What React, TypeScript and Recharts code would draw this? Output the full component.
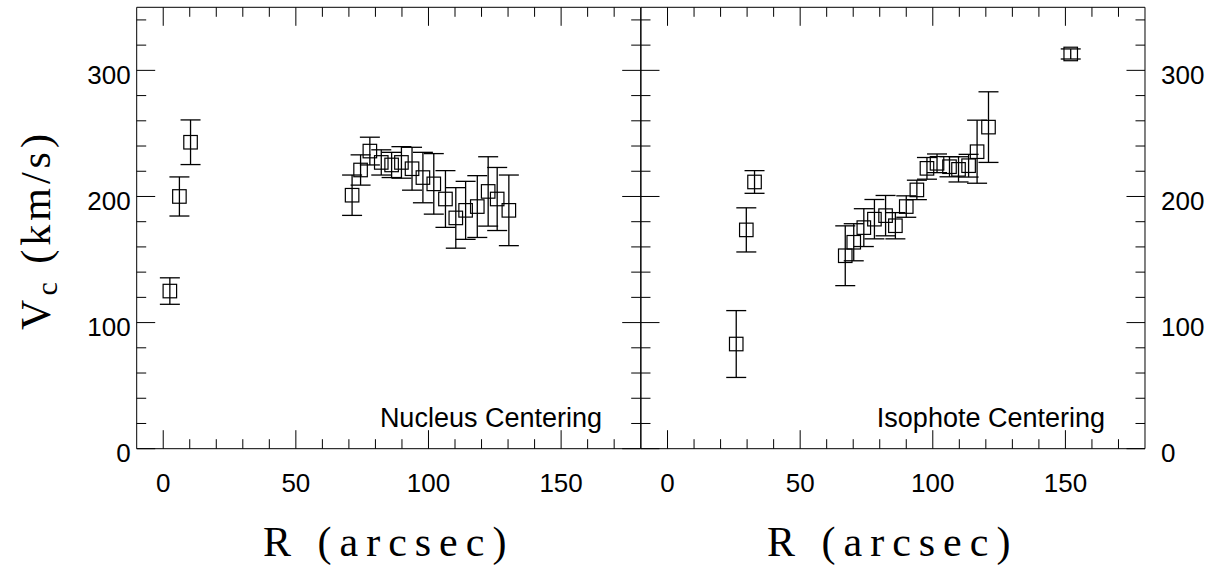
import React from 'react';
import { ScatterChart, Scatter, XAxis, YAxis, ErrorBar } from 'recharts';

// Nucleus Centering panel
const nucleusR = [2.5, 6.1, 10.3, 71.2, 74.4, 77.9, 82.2, 86.1, 89.8, 93.8, 97.9, 102.0, 106.4, 110.3, 114.0, 118.4, 122.5, 125.9, 130.3];
const nucleusV = [125, 200, 243, 201, 221, 236, 227, 225, 227, 222, 215, 210, 198, 183, 189, 192, 204, 198, 189];
const nucleusErr = [10.5, 15.5, 17.7, 16, 12, 11, 10, 10, 12.5, 17, 20, 24, 22.5, 24, 23, 24.5, 27.5, 25, 28];

// Isophote Centering panel
const isoR = [25.9, 29.7, 32.8, 67.0, 70.2, 74.0, 78.0, 82.2, 85.9, 90.0, 94.0, 97.8, 101.6, 106.3, 109.7, 113.5, 116.7, 121.0, 152.0];
const isoV = [83, 173.5, 211.5, 153, 163.7, 175.3, 182, 184.8, 176.8, 192, 205.2, 222.3, 226.3, 223.6, 221.5, 224.4, 235.5, 255, 313];
const isoErr = [26.5, 17.5, 9, 23.7, 14.7, 15, 15.6, 16, 10.4, 8.5, 7.7, 8.6, 7.4, 8, 10, 9, 25, 28, 4];

const xTicks = [0, 10, 20, 30, 40, 50, 60, 70, 80, 90, 100, 110, 120, 130, 140, 150, 160, 170];
const yTicks = [0, 20, 40, 60, 80, 100, 120, 140, 160, 180, 200, 220, 240, 260, 280, 300, 320, 340];
const xDomain: [number, number] = [-10, 180];
const yDomain: [number, number] = [0, 350];

const panelTitles = ['Nucleus Centering', 'Isophote Centering'];
const xTitle = 'R (arcsec)';

const nucleusData = nucleusR.map((r, i) => ({ r, v: nucleusV[i], e: nucleusErr[i] }));
const isoData = isoR.map((r, i) => ({ r, v: isoV[i], e: isoErr[i] }));

const SANS = '"Liberation Sans", Arial, Helvetica, sans-serif';
const SERIF = '"Liberation Serif", "Times New Roman", serif';
const MAJOR = 18.5;
const MINOR = 9.5;
const FS = 26;

function makeXTick(dir: number, showLabel: boolean) {
  return (props: any) => {
    const { x, y, payload } = props;
    const v = payload.value;
    const major = v % 50 === 0;
    const len = major ? MAJOR : MINOR;
    return (
      <g>
        <line x1={x} x2={x} y1={y} y2={y - dir * len} stroke="#000" strokeWidth={1} />
        {showLabel && major ? (
          <text x={x} y={y + 43.3} textAnchor="middle" fontSize={FS} fontFamily={SANS} fill="#000">{v}</text>
        ) : null}
      </g>
    );
  };
}

function makeYTick(dir: number, label: 'none' | 'left' | 'right') {
  return (props: any) => {
    const { x, y, payload } = props;
    const v = payload.value;
    const major = v % 100 === 0;
    const len = major ? MAJOR : MINOR;
    return (
      <g>
        <line x1={x} x2={x + dir * len} y1={y} y2={y} stroke="#000" strokeWidth={1} />
        {label === 'left' && major ? (
          <text x={x - 6} y={y + 13.3} textAnchor="end" fontSize={FS} fontFamily={SANS} fill="#000">{v}</text>
        ) : null}
        {label === 'right' && major ? (
          <text x={x + 16} y={y + 13.3} textAnchor="start" fontSize={FS} fontFamily={SANS} fill="#000">{v}</text>
        ) : null}
      </g>
    );
  };
}

const SquareShape = (props: any) => {
  const { cx, cy } = props;
  const s = 13.5;
  return <rect x={cx - s / 2} y={cy - s / 2} width={s} height={s} fill="none" stroke="#000" strokeWidth={1.2} />;
};

const axisCommon = {
  type: 'number' as const,
  allowDataOverflow: true,
  tickLine: false,
  tickSize: 0,
  tickMargin: 0,
  interval: 0 as const,
  axisLine: { stroke: '#000', strokeWidth: 1 },
};

function Panel({ data, leftLabels, rightLabels, width, margin, leftW, rightW }: any) {
  return (
    <ScatterChart width={width} height={568} margin={margin}>
      <XAxis {...axisCommon} xAxisId="b" orientation="bottom" dataKey="r" domain={xDomain} ticks={xTicks} height={119.3} tick={makeXTick(1, true)} />
      <XAxis {...axisCommon} xAxisId="t" orientation="top" dataKey="r" domain={xDomain} ticks={xTicks} height={1} tick={makeXTick(-1, false)} />
      <YAxis {...axisCommon} yAxisId="l" orientation="left" dataKey="v" domain={yDomain} ticks={yTicks} width={leftW} tick={makeYTick(1, leftLabels ? 'left' : 'none')} />
      <YAxis {...axisCommon} yAxisId="r" orientation="right" dataKey="v" domain={yDomain} ticks={yTicks} width={rightW} tick={makeYTick(-1, rightLabels ? 'right' : 'none')} />
      <Scatter data={data} xAxisId="b" yAxisId="l" dataKey="v" shape={SquareShape} isAnimationActive={false}>
        <ErrorBar dataKey="e" direction="y" width={10} stroke="#000" strokeWidth={1.3} />
      </Scatter>
      <Scatter data={data} xAxisId="t" yAxisId="r" dataKey="v" shape={() => null} isAnimationActive={false} />
    </ScatterChart>
  );
}

export default function App() {
  return (
    <div style={{ position: 'absolute', left: 0, top: 0, width: 1211, height: 568, background: '#fff', overflow: 'hidden' }}>
      <div style={{ position: 'absolute', left: 0, top: 0 }}>
        <Panel data={nucleusData} leftLabels rightLabels={false} width={645.7} margin={{ top: 6.3, right: 4, bottom: 0, left: 0 }} leftW={136.7} rightW={1} />
      </div>
      <div style={{ position: 'absolute', left: 635.7, top: 0 }}>
        <Panel data={isoData} leftLabels={false} rightLabels width={575.3} margin={{ top: 6.3, right: 0, bottom: 0, left: 4 }} leftW={1} rightW={66.3} />
      </div>
      <svg width={1211} height={568} style={{ position: 'absolute', left: 0, top: 0, pointerEvents: 'none' }}>
        <text x={602} y={427} textAnchor="end" fontSize={27} fontFamily={SANS} fill="#000">{panelTitles[0]}</text>
        <text x={1105} y={427} textAnchor="end" fontSize={27} fontFamily={SANS} fill="#000">{panelTitles[1]}</text>
        <text x={388.7} y={556} textAnchor="middle" fontSize={42} fontFamily={SERIF} letterSpacing={8} fill="#000">{xTitle}</text>
        <text x={892.7} y={556} textAnchor="middle" fontSize={42} fontFamily={SERIF} letterSpacing={8} fill="#000">{xTitle}</text>
        <text transform="translate(50,230) rotate(-90)" textAnchor="middle" fontSize={42} fontFamily={SERIF} letterSpacing={4} fill="#000">
          V<tspan fontSize={30} dy={7}>c</tspan><tspan dy={-7}> (km/s)</tspan>
        </text>
      </svg>
    </div>
  );
}
